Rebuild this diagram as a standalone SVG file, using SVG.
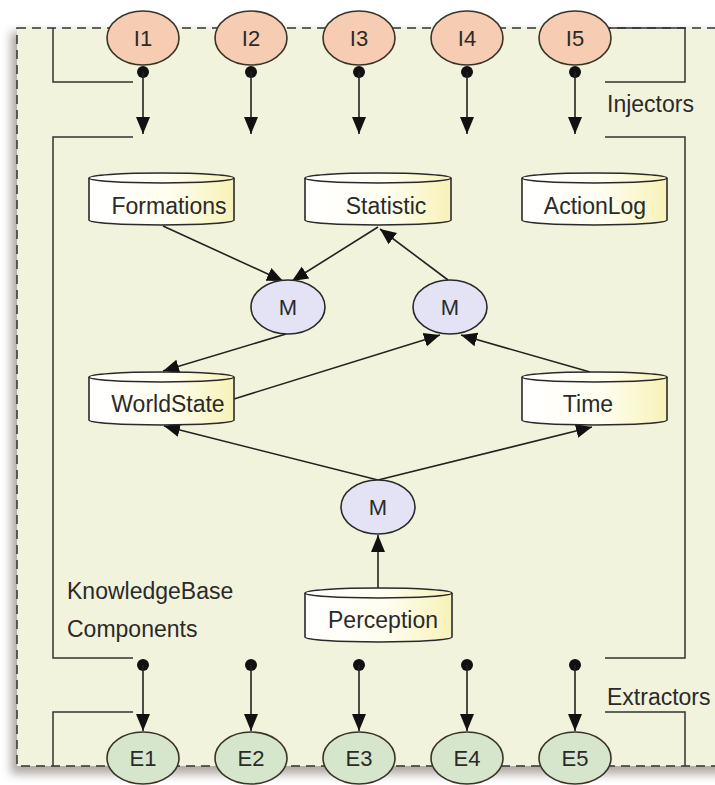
<svg xmlns="http://www.w3.org/2000/svg" width="715" height="785" viewBox="0 0 715 785">
<defs>
  <marker id="arr" markerUnits="userSpaceOnUse" markerWidth="16" markerHeight="18" viewBox="0 0 16 14" refX="16" refY="7" orient="auto">
    <path d="M0,0 L16,7 L0,14 Z" fill="#111"/>
  </marker>
  <marker id="arrV" markerUnits="userSpaceOnUse" markerWidth="18" markerHeight="14" viewBox="0 0 18 14" refX="17" refY="7" orient="auto">
    <path d="M0,0 L17,7 L0,14 Z" fill="#111"/>
  </marker>
  <linearGradient id="cyl" x1="0" y1="0" x2="1" y2="0">
    <stop offset="0" stop-color="#ffffff"/>
    <stop offset="0.55" stop-color="#fffef0"/>
    <stop offset="1" stop-color="#f7f2b8"/>
  </linearGradient>
  <filter id="sh" x="-10%" y="-10%" width="120%" height="120%">
    <feGaussianBlur stdDeviation="5"/>
  </filter>
  <style>
    .t{font-family:"Liberation Sans",Arial,sans-serif;font-size:23px;fill:#2a2a2a}
    .s{font-size:22px}
    .c{text-anchor:middle}
    .ln{stroke:#222;stroke-width:1.6;fill:none}
    .br{stroke:#333;stroke-width:1.5;fill:none}
    .inj{fill:#f6cdb2;stroke:#3a3328;stroke-width:1.6}
    .ext{fill:#d6e6cc;stroke:#3a3328;stroke-width:1.6}
    .m{fill:#e3e3f5;stroke:#2a2a2a;stroke-width:1.6}
    .cb{fill:url(#cyl);stroke:#2a2a2a;stroke-width:1.6}
    .dot{fill:#111}
  </style>
</defs>
<rect width="715" height="785" fill="#ffffff"/>
<rect x="11" y="32" width="720" height="742" fill="#6e6258" opacity="0.55" filter="url(#sh)"/>
<rect x="17" y="28" width="710" height="738" fill="#f2f3dc"/>
<rect x="17" y="28" width="710" height="738" fill="none" stroke="#333" stroke-width="1.5" stroke-dasharray="9,6"/>

<g id="brackets">
  <path class="br" d="M53,28 V82 H133"/>
  <path class="br" d="M133,137 H53 V658 H133"/>
  <path class="br" d="M53,766 V712 H133"/>
  <path class="br" d="M605,28 H685 V82 H605"/>
  <path class="br" d="M605,137 H685 V658 H605"/>
  <path class="br" d="M605,712 H685 V766"/>
</g>

<g id="labels">
  <text class="t" x="607" y="112">Injectors</text>
  <text class="t" x="607" y="705">Extractors</text>
  <text class="t" x="67" y="599">KnowledgeBase</text>
  <text class="t" x="67" y="637">Components</text>
</g>

<g id="connectors">
  <g id="inj-links">
    <circle class="dot" cx="143" cy="72" r="6"/><line class="ln" x1="143" y1="72" x2="143" y2="134" marker-end="url(#arrV)"/>
    <circle class="dot" cx="251" cy="72" r="6"/><line class="ln" x1="251" y1="72" x2="251" y2="134" marker-end="url(#arrV)"/>
    <circle class="dot" cx="359" cy="72" r="6"/><line class="ln" x1="359" y1="72" x2="359" y2="134" marker-end="url(#arrV)"/>
    <circle class="dot" cx="467" cy="72" r="6"/><line class="ln" x1="467" y1="72" x2="467" y2="134" marker-end="url(#arrV)"/>
    <circle class="dot" cx="575" cy="72" r="6"/><line class="ln" x1="575" y1="72" x2="575" y2="134" marker-end="url(#arrV)"/>
  </g>
  <g id="ext-links">
    <circle class="dot" cx="143" cy="665" r="6"/><line class="ln" x1="143" y1="665" x2="143" y2="731" marker-end="url(#arrV)"/>
    <circle class="dot" cx="251" cy="665" r="6"/><line class="ln" x1="251" y1="665" x2="251" y2="731" marker-end="url(#arrV)"/>
    <circle class="dot" cx="359" cy="665" r="6"/><line class="ln" x1="359" y1="665" x2="359" y2="731" marker-end="url(#arrV)"/>
    <circle class="dot" cx="467" cy="665" r="6"/><line class="ln" x1="467" y1="665" x2="467" y2="731" marker-end="url(#arrV)"/>
    <circle class="dot" cx="575" cy="665" r="6"/><line class="ln" x1="575" y1="665" x2="575" y2="731" marker-end="url(#arrV)"/>
  </g>
  <line class="ln" x1="163" y1="226" x2="283" y2="281" marker-end="url(#arr)"/>
  <line class="ln" x1="378" y1="227" x2="292" y2="281" marker-end="url(#arr)"/>
  <line class="ln" x1="448" y1="280" x2="380" y2="229" marker-end="url(#arr)"/>
  <line class="ln" x1="286" y1="334" x2="163" y2="371" marker-end="url(#arr)"/>
  <line class="ln" x1="234" y1="399" x2="440" y2="335" marker-end="url(#arr)"/>
  <line class="ln" x1="590" y1="372" x2="461" y2="335" marker-end="url(#arr)"/>
  <line class="ln" x1="378" y1="480" x2="164" y2="426" marker-end="url(#arr)"/>
  <line class="ln" x1="378" y1="480" x2="592" y2="427" marker-end="url(#arr)"/>
  <line class="ln" x1="378" y1="588" x2="378" y2="535" marker-end="url(#arrV)"/>
</g>

<g id="I1"><ellipse class="inj" cx="143" cy="38" rx="36" ry="27"/><text class="t s c" x="143" y="46">I1</text></g>
<g id="I2"><ellipse class="inj" cx="251" cy="38" rx="36" ry="27"/><text class="t s c" x="251" y="46">I2</text></g>
<g id="I3"><ellipse class="inj" cx="359" cy="38" rx="36" ry="27"/><text class="t s c" x="359" y="46">I3</text></g>
<g id="I4"><ellipse class="inj" cx="467" cy="38" rx="36" ry="27"/><text class="t s c" x="467" y="46">I4</text></g>
<g id="I5"><ellipse class="inj" cx="575" cy="38" rx="36" ry="27"/><text class="t s c" x="575" y="46">I5</text></g>

<g id="E1"><ellipse class="ext" cx="143" cy="758" rx="36" ry="26"/><text class="t s c" x="143" y="766">E1</text></g>
<g id="E2"><ellipse class="ext" cx="251" cy="758" rx="36" ry="26"/><text class="t s c" x="251" y="766">E2</text></g>
<g id="E3"><ellipse class="ext" cx="359" cy="758" rx="36" ry="26"/><text class="t s c" x="359" y="766">E3</text></g>
<g id="E4"><ellipse class="ext" cx="467" cy="758" rx="36" ry="26"/><text class="t s c" x="467" y="766">E4</text></g>
<g id="E5"><ellipse class="ext" cx="575" cy="758" rx="36" ry="26"/><text class="t s c" x="575" y="766">E5</text></g>

<g id="Formations">
  <path class="cb" d="M89,178 V220 A72.5,5 0 0 0 234,220 V178"/>
  <ellipse class="cb" cx="161.5" cy="178" rx="72.5" ry="5"/>
  <text class="t c" x="169" y="214">Formations</text>
</g>
<g id="Statistic">
  <path class="cb" d="M305,178 V220 A73,5 0 0 0 451,220 V178"/>
  <ellipse class="cb" cx="378" cy="178" rx="73" ry="5"/>
  <text class="t c" x="386" y="214">Statistic</text>
</g>
<g id="ActionLog">
  <path class="cb" d="M522,178 V220 A72.5,5 0 0 0 667,220 V178"/>
  <ellipse class="cb" cx="594.5" cy="178" rx="72.5" ry="5"/>
  <text class="t c" x="595" y="214">ActionLog</text>
</g>
<g id="WorldState">
  <path class="cb" d="M89,377 V420 A72.5,5 0 0 0 234,420 V377"/>
  <ellipse class="cb" cx="161.5" cy="377" rx="72.5" ry="5"/>
  <text class="t c" x="168" y="412">WorldState</text>
</g>
<g id="Time">
  <path class="cb" d="M522,377 V420 A72.5,5 0 0 0 667,420 V377"/>
  <ellipse class="cb" cx="594.5" cy="377" rx="72.5" ry="5"/>
  <text class="t c" x="588" y="412">Time</text>
</g>
<g id="Perception">
  <path class="cb" d="M305,593 V637 A73.5,5 0 0 0 452,637 V593"/>
  <ellipse class="cb" cx="378.5" cy="593" rx="73.5" ry="5"/>
  <text class="t c" x="383" y="628">Perception</text>
</g>

<g id="M1"><ellipse class="m" cx="288" cy="307" rx="37" ry="27"/><text class="t s c" x="288" y="315">M</text></g>
<g id="M2"><ellipse class="m" cx="450" cy="307" rx="37" ry="27"/><text class="t s c" x="450" y="315">M</text></g>
<g id="M3"><ellipse class="m" cx="378" cy="507" rx="37" ry="27"/><text class="t s c" x="378" y="515">M</text></g>
</svg>
